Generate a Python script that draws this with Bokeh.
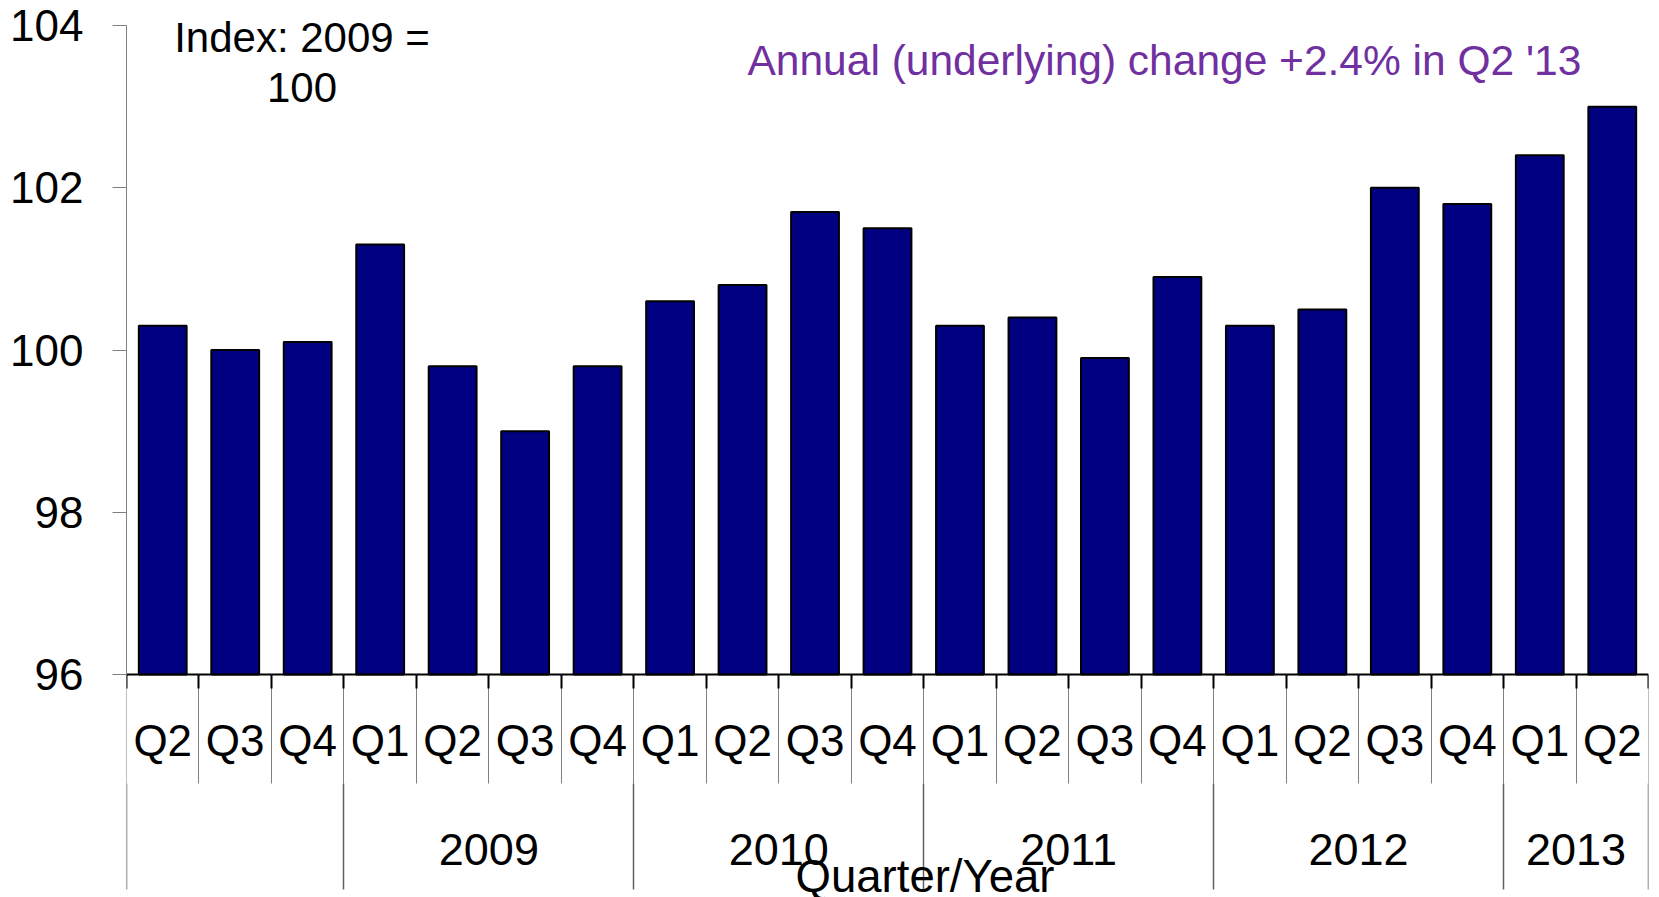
from bokeh.plotting import figure
from bokeh.models import (ColumnDataSource, Range1d, LinearAxis, FixedTicker,
                          CustomJSTickFormatter, Label)
from bokeh.embed import file_html
from bokeh.resources import INLINE

# ---- data ----
quarters = ["Q2", "Q3", "Q4",
            "Q1", "Q2", "Q3", "Q4",
            "Q1", "Q2", "Q3", "Q4",
            "Q1", "Q2", "Q3", "Q4",
            "Q1", "Q2", "Q3", "Q4",
            "Q1", "Q2"]
values = [100.3, 100.0, 100.1,
          101.3, 99.8, 99.0, 99.8,
          100.6, 100.8, 101.7, 101.5,
          100.3, 100.4, 99.9, 100.9,
          100.3, 100.5, 102.0, 101.8,
          102.4, 103.0]
year_labels = ["", "2009", "2010", "2011", "2012", "2013"]
year_sizes = [3, 4, 4, 4, 4, 2]
y_ticks = [96, 98, 100, 102, 104]
y_min, y_max = 96, 104

FONT = "Liberation Sans"

# ---- layout (pixels) ----
FIG_W, FIG_H = 1651, 897
LEFT, RIGHT = 126, 3
AXIS_TOP = 25         # pixel row of the 104 tick
AXIS_PX = 649         # pixels from 104 down to 96
QTICK_PX = 109        # length of quarter separators
YTICK_PX = 106        # length of year separators below them
px_per_unit = AXIS_PX / (y_max - y_min)
y_end = y_max + AXIS_TOP / px_per_unit                     # frame starts at page top
y_bottom = y_max - (FIG_H - AXIS_TOP) / px_per_unit        # frame reaches page bottom
year_axis_loc = y_min - QTICK_PX / px_per_unit

n = len(quarters)
centers = [i + 0.5 for i in range(n)]
bounds = list(range(n + 1))
year_bounds = [0]
for s in year_sizes:
    year_bounds.append(year_bounds[-1] + s)
year_centers, year_text = [], []
for i, lab in enumerate(year_labels):
    if lab:
        year_centers.append((year_bounds[i] + year_bounds[i + 1]) / 2)
        year_text.append(lab)

src = ColumnDataSource(dict(x=centers, top=values, q=quarters))

p = figure(width=FIG_W, height=FIG_H, x_range=Range1d(0, n), y_range=Range1d(y_bottom, y_end),
           output_backend="svg", toolbar_location=None,
           x_axis_location=None, y_axis_location=None,
           min_border_left=LEFT, min_border_right=RIGHT, min_border_top=0, min_border_bottom=0)
p.outline_line_color = None
p.background_fill_color = "white"
p.border_fill_color = "white"
p.grid.grid_line_color = None

p.vbar(x="x", top="top", bottom=y_min, width=0.66, source=src,
       fill_color="#000080", line_color="black", line_width=2)

# y axis
yax = LinearAxis(ticker=FixedTicker(ticks=y_ticks), bounds=(y_min, y_max))
yax.major_tick_out = 14
yax.major_tick_in = 0
yax.minor_tick_out = 0
yax.minor_tick_in = 0
yax.major_label_standoff = 29
yax.major_label_text_font = FONT
yax.major_label_text_font_size = "44px"
yax.major_label_text_color = "black"
yax.axis_line_color = "#808080"
yax.major_tick_line_color = "#808080"
p.add_layout(yax, "left")

blank = CustomJSTickFormatter(code="return '';")

# quarter axis (at y = 96)
qax = LinearAxis(fixed_location=y_min,
                 ticker=FixedTicker(ticks=centers, minor_ticks=bounds),
                 formatter=CustomJSTickFormatter(args=dict(labels=quarters),
                                                 code="return labels[Math.floor(tick)];"))
qax.major_tick_out = 0
qax.major_tick_in = 0
qax.minor_tick_in = 0
qax.minor_tick_out = QTICK_PX
qax.minor_tick_line_color = "#808080"
qax.axis_line_color = "black"
qax.axis_line_width = 2
qax.major_label_standoff = -68
qax.major_label_text_font = FONT
qax.major_label_text_font_size = "44px"
qax.major_label_text_color = "black"
p.add_layout(qax, "below")

# short dark tick marks at category boundaries
tax = LinearAxis(fixed_location=y_min, ticker=FixedTicker(ticks=bounds, minor_ticks=[]),
                 formatter=blank)
tax.major_tick_out = 14
tax.major_tick_in = 0
tax.major_tick_line_color = "black"
tax.major_tick_line_width = 2
tax.axis_line_color = None
tax.major_label_text_font_size = "1px"
p.add_layout(tax, "below")

# year axis (below the quarter separators)
yrax = LinearAxis(fixed_location=year_axis_loc,
                  ticker=FixedTicker(ticks=year_centers, minor_ticks=year_bounds),
                  formatter=CustomJSTickFormatter(args=dict(labels=year_text),
                                                  code="return labels[index];"))
yrax.major_tick_out = 0
yrax.major_tick_in = 0
yrax.minor_tick_in = 0
yrax.minor_tick_out = YTICK_PX
yrax.minor_tick_line_color = "#606060"
yrax.minor_tick_line_width = 1.5
yrax.axis_line_color = None
yrax.major_label_standoff = -56
yrax.major_label_text_font = FONT
yrax.major_label_text_font_size = "45px"
yrax.major_label_text_color = "black"
p.add_layout(yrax, "below")

# annotations (screen units relative to the plot frame, y from frame bottom)
def sy(page_y, adj=16):
    return FIG_H - page_y + adj

p.add_layout(Label(x=175.5, y=sy(53), x_units="screen", y_units="screen",
                   text="Index: 2009 =", text_font=FONT, text_font_size="42px",
                   text_align="center", text_baseline="alphabetic", text_color="black"))
p.add_layout(Label(x=175.5, y=sy(103), x_units="screen", y_units="screen",
                   text="100", text_font=FONT, text_font_size="42px",
                   text_align="center", text_baseline="alphabetic", text_color="black"))
p.add_layout(Label(x=621, y=sy(76), x_units="screen", y_units="screen",
                   text="Annual (underlying) change +2.4% in Q2 '13", text_font=FONT,
                   text_font_size="42.5px", text_align="left", text_baseline="alphabetic",
                   text_color="#7030A0"))
p.add_layout(Label(x=798.5, y=sy(893, 17), x_units="screen", y_units="screen",
                   text="Quarter/Year", text_font=FONT, text_font_size="45.5px",
                   text_align="center", text_baseline="alphabetic", text_color="black"))

open("out.html", "w").write(file_html(p, INLINE))
